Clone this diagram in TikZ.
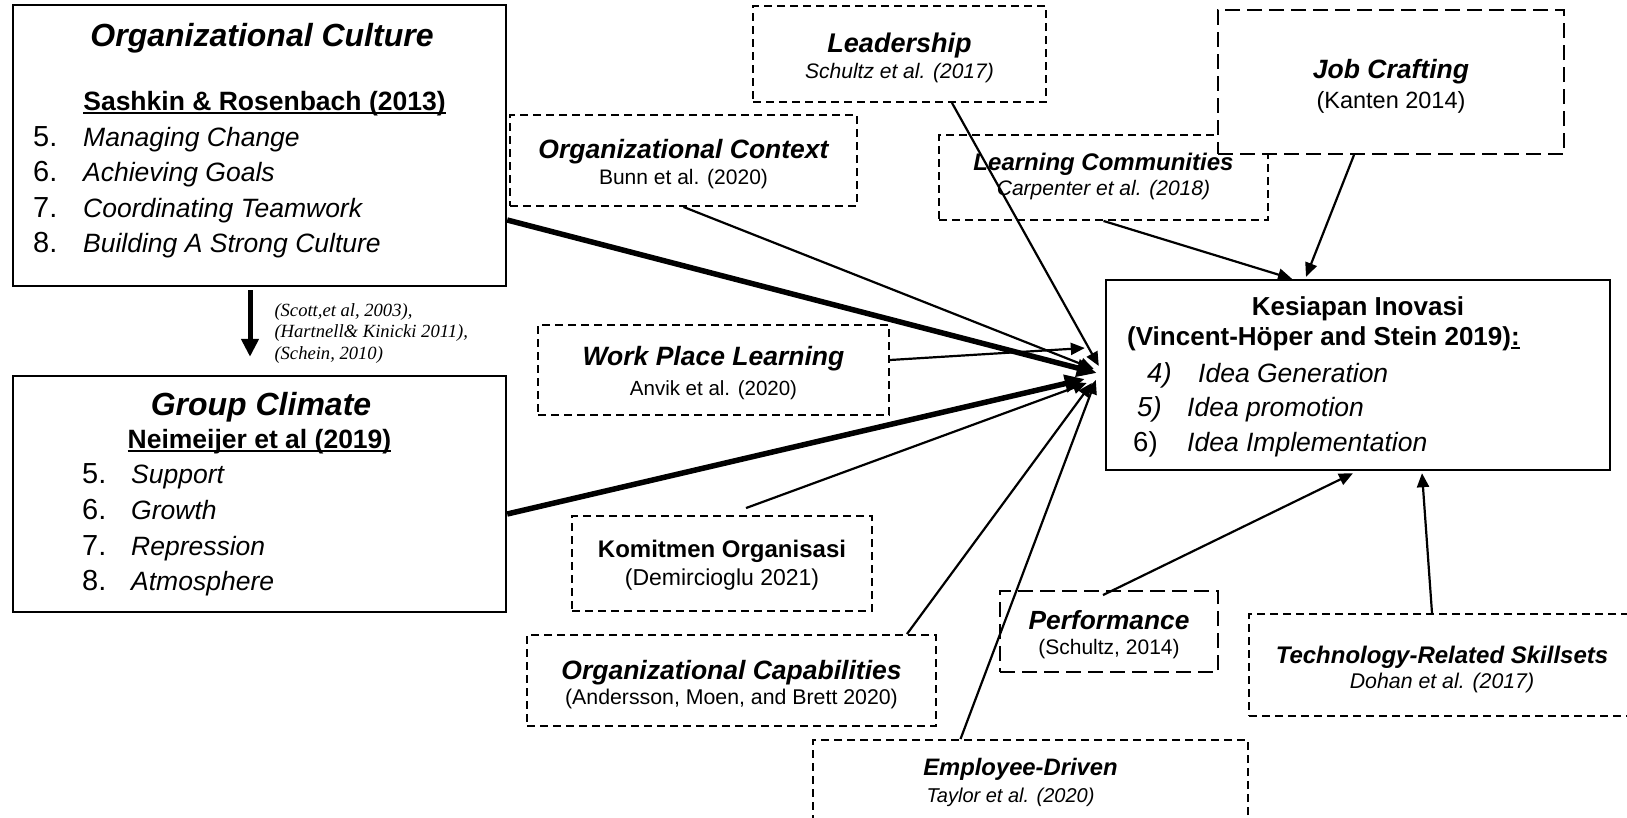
\documentclass[tikz,border=0pt]{standalone}
\usepackage{fontspec}
\setmainfont{Liberation Sans}
\newfontfamily\refserif{Liberation Serif}
\usetikzlibrary{arrows.meta}
\newcommand{\fsz}[2]{\fontsize{#1}{#2}\selectfont}
% underline with a visible bar under its argument
\newcommand{\ulbar}[1]{\setbox0\hbox{#1}\leavevmode\rlap{\rule[-4pt]{\wd0}{2pt}}\box0}
\begin{document}
\begin{tikzpicture}[x=1pt,y=-1pt,
  solidbox/.style={draw,line width=2.4pt,fill=white,inner sep=0pt},
  dbox/.style={draw,line width=1.9pt,dash pattern=on 8pt off 5pt,fill=white,inner sep=0pt},
  dboxlong/.style={dbox,dash pattern=on 15pt off 7pt},
  boxtext/.style={inner sep=0pt,align=center},
  link/.style={line width=2.2pt,-{Triangle[length=14pt,width=12pt]}},
  heavy/.style={line width=5.5pt,-{Triangle[length=20pt,width=17pt]}},
  down/.style={line width=5pt,-{Triangle[length=18pt,width=17pt]}},
  item/.style={inner sep=0pt,anchor=base west,font=\fsz{26.5}{30}},
  num/.style={item,font=\fsz{29}{30}},
  ttl/.style={inner sep=0pt,anchor=base},
]
\useasboundingbox (0,0) rectangle (1627,817);

% ---------- main boxes ----------
\node[solidbox,minimum width=493pt,minimum height=281pt] (oc) at (259.5,145.5) {};
\node[solidbox,minimum width=493pt,minimum height=236pt] (gc) at (259.5,494) {};
\node[solidbox,minimum width=504pt,minimum height=190pt] (kes) at (1358,375) {};

% Organizational culture
\node[ttl,font=\fsz{32}{36}\bfseries\itshape] (octitle) at (262,46) {Organizational Culture};
\node[ttl,font=\fsz{26.5}{30}\bfseries] (ocsrc) at (264.5,110) {\ulbar{Sashkin \& Rosenbach (2013)}};
\foreach \n/\t/\y in {5/Managing Change/146,6/Achieving Goals/181,7/Coordinating Teamwork/217,8/Building A Strong Culture/252}{
  \node[num] (ocnum\n) at (33,\y) {\n.};
  \node[item,font=\fsz{26.5}{30}\itshape] (octxt\n) at (83,\y) {\t};
}

% Group climate
\node[ttl,font=\fsz{32}{36}\bfseries\itshape] (gctitle) at (261,415) {Group Climate};
\node[ttl,font=\fsz{26.5}{30}\bfseries] (gcsrc) at (259.5,448) {\ulbar{Neimeijer et al (2019)}};
\foreach \n/\t/\y in {5/Support/483,6/Growth/519,7/Repression/555,8/Atmosphere/590}{
  \node[num] (gcnum\n) at (82,\y) {\n.};
  \node[item,font=\fsz{26.5}{30}\itshape] (gctxt\n) at (131,\y) {\t};
}

% Kesiapan inovasi
\node[ttl,font=\fsz{26}{30}\bfseries] (kestitle) at (1358,315) {Kesiapan Inovasi};
\node[item,font=\fsz{26}{30}\bfseries] (kessrc) at (1127,345) {(Vincent-Höper and Stein 2019)\ulbar{:}};
\node[item,font=\fsz{27.5}{30}\itshape] (kesnum4) at (1147,382) {4)};
\node[item,font=\fsz{26.5}{30}\itshape] (kestxt4) at (1198,382) {Idea Generation};
\node[item,font=\fsz{27.5}{30}\itshape] (kesnum5) at (1137,416) {5)};
\node[item,font=\fsz{26.5}{30}\itshape] (kestxt5) at (1187,416) {Idea promotion};
\node[item,font=\fsz{27.5}{30}] (kesnum6) at (1133,451) {6)};
\node[item,font=\fsz{26.5}{30}\itshape] (kestxt6) at (1187,451) {Idea Implementation};

% ---------- antecedent boxes ----------
\node[dbox,minimum width=293pt,minimum height=96pt] (lead) at (899.5,54) {};
\node[boxtext,font=\fsz{21}{26}] (leadtxt) at ([yshift=-3.6pt]lead.center)
  {{\fsz{27}{26}\bfseries\itshape Leadership}\\{\itshape Schultz et al. (2017)}};

\node[dbox,minimum width=347pt,minimum height=91pt] (octx) at (683.5,160.5) {};
\node[boxtext,font=\fsz{21}{26}] (octxtxt) at ([yshift=-3.6pt]octx.center)
  {{\fsz{26.5}{26}\bfseries\itshape Organizational Context}\\Bunn et al. (2020)};

\node[dbox,minimum width=329pt,minimum height=85pt] (lc) at (1103.5,177.5) {};
\node[boxtext,font=\fsz{21}{25}] (lctxt) at ([yshift=1.5pt]lc.center)
  {{\fsz{24}{25}\bfseries\itshape Learning Communities}\\{\itshape Carpenter et al. (2018)}};

% drawn after the learning-communities box, which it partly covers
\node[dboxlong,minimum width=346pt,minimum height=144pt] (jc) at (1391,82) {};
\node[boxtext,font=\fsz{23.5}{30}] (jctxt) at ([yshift=-4.2pt]jc.center)
  {{\fsz{26.5}{30}\bfseries\itshape Job Crafting}\\(Kanten 2014)};

\node[dbox,minimum width=351pt,minimum height=90pt] (wpl) at (713.5,370) {};
\node[boxtext,font=\fsz{20.5}{30}] (wpltxt) at ([yshift=-2.6pt]wpl.center)
  {{\fsz{26.5}{30}\bfseries\itshape Work Place Learning}\\Anvik et al. (2020)};

\node[dbox,minimum width=300pt,minimum height=95pt] (kom) at (722,563.5) {};
\node[boxtext,font=\fsz{23}{28}] (komtxt) at ([yshift=-2pt]kom.center)
  {{\fsz{24}{28}\bfseries Komitmen Organisasi}\\(Demircioglu 2021)};

\node[dbox,minimum width=409pt,minimum height=91pt] (ocap) at (731.5,680.5) {};
\node[boxtext,font=\fsz{21.3}{25}] (ocaptxt) at ([yshift=-3.6pt]ocap.center)
  {{\fsz{26.5}{25}\bfseries\itshape Organizational Capabilities}\\(Andersson, Moen, and Brett 2020)};

\node[dboxlong,minimum width=218pt,minimum height=81pt] (perf) at (1109,631.5) {};
\node[boxtext,font=\fsz{21}{25}] (perftxt) at ([yshift=-3.1pt]perf.center)
  {{\fsz{26.3}{25}\bfseries\itshape Performance}\\(Schultz, 2014)};

\node[dbox,minimum width=386pt,minimum height=102pt] (tech) at (1442,665) {};
\node[boxtext,font=\fsz{21.3}{25}] (techtxt) at ([yshift=-4.2pt]tech.center)
  {{\fsz{24}{25}\bfseries\itshape Technology-Related Skillsets}\\{\itshape Dohan et al. (2017)}};

\node[dbox,minimum width=435pt,minimum height=82pt] (emp) at (1030.5,781) {};
\node[boxtext,font=\fsz{20}{27}] (emptxt) at ([xshift=-10pt,yshift=-1pt]emp.center)
  {{\fsz{23.8}{27}\bfseries\itshape Employee-Driven}\\{\itshape Taylor et al. (2020)}\hspace*{20pt}};

% ---------- relations ----------
\draw[down] ([xshift=-9.5pt,yshift=-3pt]oc.south) -- ([xshift=-9.5pt,yshift=18pt]gc.north)
  node[pos=0.5,right=22pt,yshift=-10pt,inner sep=0pt,align=left,font=\refserif\itshape\fsz{18.6}{21.5}] (refs)
  {(Scott,et al, 2003),\\(Hartnell\& Kinicki 2011),\\(Schein, 2010)};

\draw[link] ([xshift=52.5pt]lead.south) -- ([xshift=-6pt,yshift=9pt]kes.west);
\draw[link] (octx.south) -- ([xshift=-11pt,yshift=6pt]kes.west);
\draw[heavy] ([yshift=-74.5pt]oc.east) -- ([xshift=-8pt,yshift=2pt]kes.west);
\draw[link] ([yshift=10pt]wpl.east) -- ([xshift=-20pt,yshift=27pt]kes.west);
\draw[heavy] ([yshift=-20pt]gc.east) -- ([xshift=-20pt,yshift=-4pt]kes.west);
\draw[link] ([xshift=24pt,yshift=7pt]kom.north) -- ([xshift=-18pt,yshift=-8pt]kes.west);
\draw[link] ([xshift=-30pt]ocap.north east) -- ([xshift=-13pt,yshift=-8pt]kes.west);
\draw[link] ([xshift=-70pt]emp.north) -- ([xshift=-9pt,yshift=-5pt]kes.west);
\draw[link] ([xshift=-6pt,yshift=-5pt]perf.north) -- ([xshift=-5pt,yshift=-2pt]kes.south);
\draw[link] ([xshift=-10pt]tech.north) -- ([xshift=64pt,yshift=-2pt]kes.south);
\draw[link] (lc.south) -- ([xshift=-66pt]kes.north);
\draw[link] ([xshift=-37pt]jc.south) -- ([xshift=-52pt,yshift=2pt]kes.north);
\end{tikzpicture}
\end{document}
